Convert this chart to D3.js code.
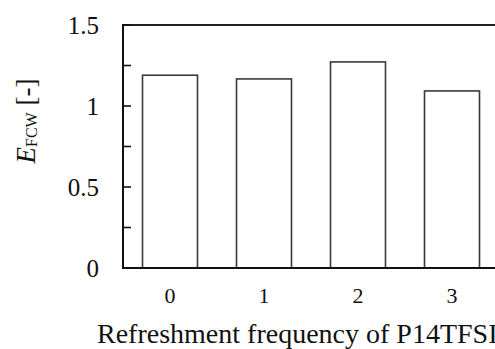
<!DOCTYPE html>
<html>
<head>
<script src="https://d3js.org/d3.v7.min.js"></script>
<style>
body { margin: 0; background: white; }
</style>
</head>
<body>
<svg id="chart" width="495" height="349"></svg>
<script>
// values
const categories = ["0", "1", "2", "3"];
const efcw = [1.19, 1.167, 1.272, 1.093];
const yTickLabels = [0, 0.5, 1, 1.5];
const yMinorTicks = [0, 0.25, 0.5, 0.75, 1, 1.25, 1.5];

const serif = "'Liberation Serif'";
const svg = d3.select("#chart");
const plotLeft = 123, plotRight = 499, plotTop = 25, plotBottom = 268;

const x = d3.scaleBand().domain(categories).range([plotLeft, plotRight])
  .paddingInner(0.415).paddingOuter(0.2075);
const y = d3.scaleLinear().domain([0, 1.5]).range([plotBottom, plotTop]);

// bars
svg.append("g").selectAll("rect")
  .data(efcw)
  .enter()
  .append("rect")
  .attr("x", (d, i) => x(categories[i]))
  .attr("y", d => y(d))
  .attr("width", x.bandwidth())
  .attr("height", d => y(0) - y(d))
  .attr("fill", "white")
  .attr("stroke", "#3a3a3a")
  .attr("stroke-width", 1.6);

// frame: top line, left axis, bottom axis
svg.append("line").attr("x1", plotLeft).attr("x2", 495).attr("y1", plotTop).attr("y2", plotTop)
  .attr("stroke", "#222").attr("stroke-width", 1.8);
svg.append("line").attr("x1", plotLeft).attr("x2", 495).attr("y1", plotBottom).attr("y2", plotBottom)
  .attr("stroke", "#111").attr("stroke-width", 2);
svg.append("line").attr("x1", plotLeft).attr("x2", plotLeft).attr("y1", plotTop - 0.9).attr("y2", plotBottom + 1)
  .attr("stroke", "#111").attr("stroke-width", 2);

// inner minor ticks
svg.append("g").selectAll("line")
  .data(yMinorTicks)
  .enter()
  .append("line")
  .attr("x1", plotLeft).attr("x2", plotLeft + 8)
  .attr("y1", d => y(d)).attr("y2", d => y(d))
  .attr("stroke", "#111").attr("stroke-width", 1.6);

// y tick labels
svg.append("g").selectAll("text")
  .data(yTickLabels)
  .enter()
  .append("text")
  .attr("x", 99)
  .attr("y", d => y(d))
  .attr("dy", "0.35em")
  .attr("text-anchor", "end")
  .style("font-family", serif)
  .style("font-size", "25px")
  .style("fill", "#111")
  .text(d => d);

// x tick labels
svg.append("g").selectAll("text")
  .data(categories)
  .enter()
  .append("text")
  .attr("x", d => x(d) + x.bandwidth() / 2)
  .attr("y", 303)
  .attr("text-anchor", "middle")
  .style("font-family", serif)
  .style("font-size", "22px")
  .style("fill", "#111")
  .text(d => d);

// x title
svg.append("text")
  .attr("x", 97)
  .attr("y", 343)
  .style("font-family", serif)
  .style("font-size", "28px")
  .style("fill", "#111")
  .text("Refreshment frequency of P14TFSI");

// y title
const yt = svg.append("text")
  .attr("transform", "translate(35,121) rotate(-90)")
  .attr("text-anchor", "middle")
  .style("font-family", serif)
  .style("font-size", "27px")
  .style("fill", "#111");
yt.append("tspan").style("font-style", "italic").text("E");
yt.append("tspan").style("font-size", "16px").attr("dy", 2).text("FCW");
yt.append("tspan").attr("dy", -2).text(" [-]");
</script>
</body>
</html>
